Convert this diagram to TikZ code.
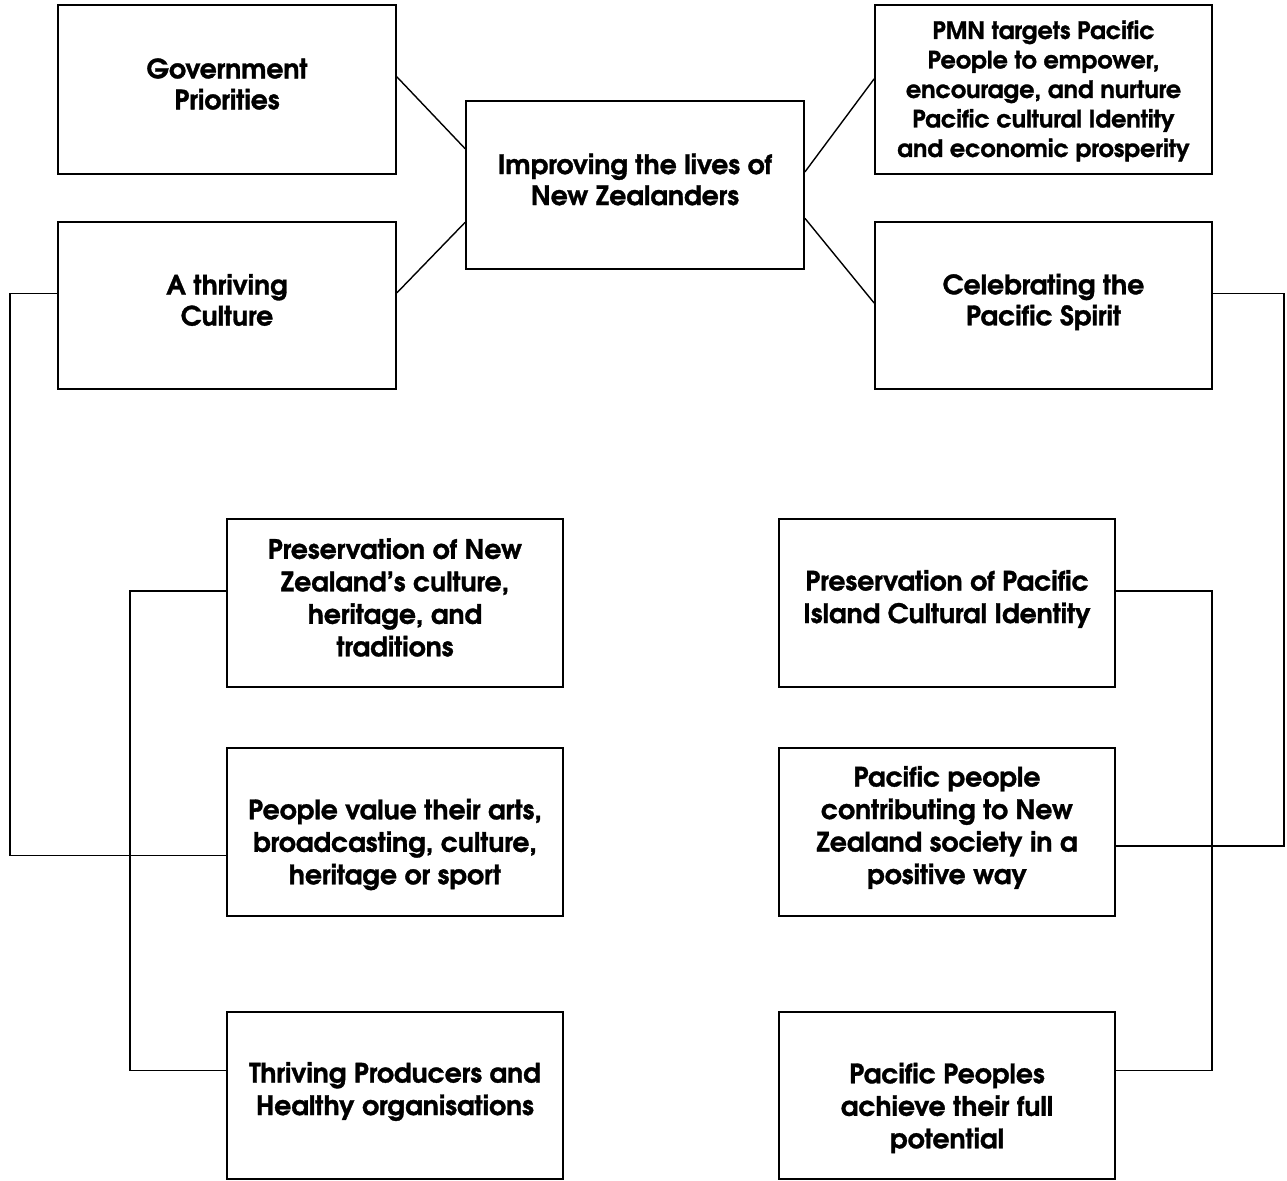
\documentclass[tikz,border=0pt]{standalone}
\usepackage{fontspec}
\setmainfont{texgyreadventor}[Extension=.otf,UprightFont=*-regular,BoldFont=*-bold,ItalicFont=*-italic,BoldItalicFont=*-bolditalic,BoldFeatures={FakeBold=1.2}]
\usetikzlibrary{calc}
\begin{document}
\begin{tikzpicture}[x=1pt,y=-1pt,
  box/.style={draw=black,line width=1.8pt,rectangle,inner sep=0pt,fill=none},
  lbl/.style={align=center,font=\fontsize{26.7}{32.5}\selectfont\bfseries,inner sep=0pt},
  tlbl/.style={align=center,font=\fontsize{26.7}{31}\selectfont\bfseries,inner sep=0pt},
  conn/.style={draw=black,line width=1.4pt}]
\useasboundingbox (0,0) rectangle (1287,1180);
% boxes
\node[box,minimum width=338pt,minimum height=169pt] (gov) at (227,89.5) {};
\node[box,minimum width=338pt,minimum height=168pt] (imp) at (635,185) {};
\node[box,minimum width=337pt,minimum height=169pt] (pmn) at (1043.5,89.5) {};
\node[box,minimum width=338pt,minimum height=167pt] (thr) at (227,305.5) {};
\node[box,minimum width=337pt,minimum height=167pt] (cel) at (1043.5,305.5) {};
\node[box,minimum width=336pt,minimum height=168pt] (pnz) at (395,603) {};
\node[box,minimum width=336pt,minimum height=168pt] (pva) at (395,832) {};
\node[box,minimum width=336pt,minimum height=167pt] (tpr) at (395,1095.5) {};
\node[box,minimum width=336pt,minimum height=168pt] (ppi) at (947,603) {};
\node[box,minimum width=336pt,minimum height=168pt] (ppc) at (947,832) {};
\node[box,minimum width=336pt,minimum height=167pt] (ppa) at (947,1095.5) {};
% labels
\node[tlbl] (tgov) at (227,84) {Government\\Priorities};
\node[tlbl] (timp) at (635,179.5) {Improving the lives of\\New Zealanders};
\node[tlbl] (tthr) at (227,300) {A thriving\\Culture};
\node[lbl,font=\fontsize{23.9}{29.5}\selectfont\bfseries] (tpmn) at (1043.5,91) {PMN targets Pacific\\People to empower,\\encourage, and nurture\\Pacific cultural Identity\\and economic prosperity};
\node[tlbl] (tcel) at (1043.5,302) {Celebrating the\\Pacific Spirit};
\node[lbl] (tpnz) at (395,597.5) {Preservation of New\\Zealand’s culture,\\heritage, and\\traditions};
\node[lbl] (tpva) at (395,844.5) {People value their arts,\\broadcasting, culture,\\heritage or sport};
\node[lbl] (ttpr) at (395,1091.5) {Thriving Producers and\\Healthy organisations};
\node[lbl] (tppi) at (947,599) {Preservation of Pacific\\Island Cultural Identity};
\node[lbl] (tppc) at (947,827.5) {Pacific people\\contributing to New\\Zealand society in a\\positive way};
\node[lbl] (tppa) at (947,1108) {Pacific Peoples\\achieve their full\\potential};
% connectors
\draw[conn] ($(gov.north east)!0.426!(gov.south east)$) -- ($(imp.north west)!0.286!(imp.south west)$);
\draw[conn] ($(thr.north east)!0.425!(thr.south east)$) -- ($(imp.north west)!0.72!(imp.south west)$);
\draw[conn] ($(imp.north east)!0.423!(imp.south east)$) -- ($(pmn.north west)!0.438!(pmn.south west)$);
\draw[conn] ($(imp.north east)!0.696!(imp.south east)$) -- ($(cel.north west)!0.485!(cel.south west)$);
\draw[conn] ($(thr.north west)!0.43!(thr.south west)$) -- ++(-47,0) |- ($(pva.north west)!0.637!(pva.south west)$);
\draw[conn] ($(pnz.north west)!0.429!(pnz.south west)$) -- ++(-96,0) |- ($(tpr.north west)!0.353!(tpr.south west)$);
\draw[conn] ($(cel.north east)!0.43!(cel.south east)$) -- ++(71,0) |- ($(ppc.north east)!0.583!(ppc.south east)$);
\draw[conn] ($(ppi.north east)!0.429!(ppi.south east)$) -- ++(96,0) |- ($(ppa.north east)!0.353!(ppa.south east)$);
\end{tikzpicture}
\end{document}
